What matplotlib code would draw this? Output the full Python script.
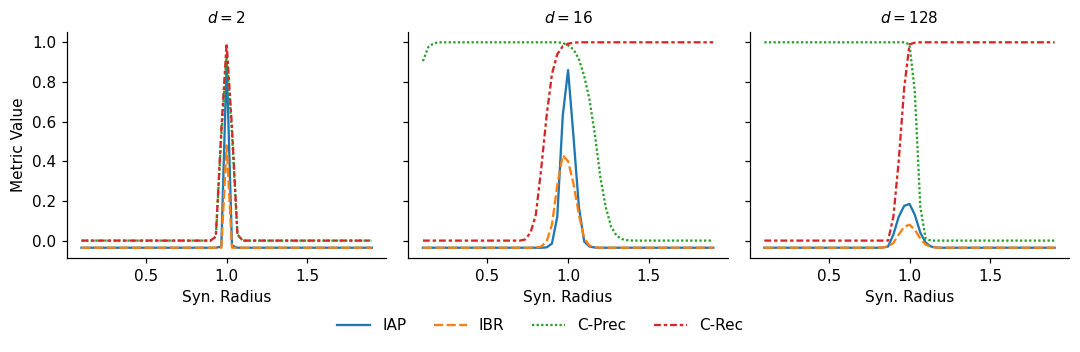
import matplotlib
matplotlib.use("Agg")
import matplotlib.pyplot as plt

# synthetic radius grid (55 points, 0.1 .. 1.9)
radius = [0.1, 0.133, 0.167, 0.2, 0.233, 0.267, 0.3, 0.333, 0.367, 0.4, 0.433,
          0.467, 0.5, 0.533, 0.567, 0.6, 0.633, 0.667, 0.7, 0.733, 0.767, 0.8,
          0.833, 0.867, 0.9, 0.933, 0.967, 1.0, 1.033, 1.067, 1.1, 1.133, 1.167,
          1.2, 1.233, 1.267, 1.3, 1.333, 1.367, 1.4, 1.433, 1.467, 1.5, 1.533,
          1.567, 1.6, 1.633, 1.667, 1.7, 1.733, 1.767, 1.8, 1.833, 1.867, 1.9]

dims = [2, 16, 128]
metrics = ["IAP", "IBR", "C-Prec", "C-Rec"]

# ---- d = 2
iap_d2 = [-0.036, -0.036, -0.036, -0.036, -0.036, -0.036, -0.036, -0.036, -0.036, -0.036, -0.036,
          -0.036, -0.036, -0.036, -0.036, -0.036, -0.036, -0.036, -0.036, -0.036, -0.036, -0.036,
          -0.036, -0.036, -0.036, -0.036, -0.030, 0.900, -0.025, -0.036, -0.036, -0.036, -0.036,
          -0.036, -0.036, -0.036, -0.036, -0.036, -0.036, -0.036, -0.036, -0.036, -0.036, -0.036,
          -0.036, -0.036, -0.036, -0.036, -0.036, -0.036, -0.036, -0.036, -0.036, -0.036, -0.036]
ibr_d2 = [-0.036, -0.036, -0.036, -0.036, -0.036, -0.036, -0.036, -0.036, -0.036, -0.036, -0.036,
          -0.036, -0.036, -0.036, -0.036, -0.036, -0.036, -0.036, -0.036, -0.036, -0.036, -0.036,
          -0.036, -0.036, -0.036, -0.036, -0.036, 0.480, -0.036, -0.036, -0.036, -0.036, -0.036,
          -0.036, -0.036, -0.036, -0.036, -0.036, -0.036, -0.036, -0.036, -0.036, -0.036, -0.036,
          -0.036, -0.036, -0.036, -0.036, -0.036, -0.036, -0.036, -0.036, -0.036, -0.036, -0.036]
cprec_d2 = [0, 0, 0, 0, 0, 0, 0, 0, 0, 0, 0,
            0, 0, 0, 0, 0, 0, 0, 0, 0, 0, 0,
            0, 0, 0, 0.02, 0.53, 0.94, 0.54, 0.03, 0, 0, 0,
            0, 0, 0, 0, 0, 0, 0, 0, 0, 0, 0,
            0, 0, 0, 0, 0, 0, 0, 0, 0, 0, 0]
crec_d2 = [0, 0, 0, 0, 0, 0, 0, 0, 0, 0, 0,
           0, 0, 0, 0, 0, 0, 0, 0, 0, 0, 0,
           0, 0, 0, 0.02, 0.56, 0.995, 0.57, 0.03, 0, 0, 0,
           0, 0, 0, 0, 0, 0, 0, 0, 0, 0, 0,
           0, 0, 0, 0, 0, 0, 0, 0, 0, 0, 0]

# ---- d = 16
iap_d16 = [-0.036, -0.036, -0.036, -0.036, -0.036, -0.036, -0.036, -0.036, -0.036, -0.036, -0.036,
           -0.036, -0.036, -0.036, -0.036, -0.036, -0.036, -0.036, -0.036, -0.036, -0.036, -0.036,
           -0.036, -0.034, -0.015, 0.12, 0.63, 0.86, 0.53, 0.17, -0.005, -0.030, -0.035,
           -0.036, -0.036, -0.036, -0.036, -0.036, -0.036, -0.036, -0.036, -0.036, -0.036, -0.036,
           -0.036, -0.036, -0.036, -0.036, -0.036, -0.036, -0.036, -0.036, -0.036, -0.036, -0.036]
ibr_d16 = [-0.036, -0.036, -0.036, -0.036, -0.036, -0.036, -0.036, -0.036, -0.036, -0.036, -0.036,
           -0.036, -0.036, -0.036, -0.036, -0.036, -0.036, -0.036, -0.036, -0.036, -0.036, -0.035,
           -0.030, -0.005, 0.08, 0.28, 0.43, 0.40, 0.29, 0.13, 0.01, -0.025, -0.034,
           -0.036, -0.036, -0.036, -0.036, -0.036, -0.036, -0.036, -0.036, -0.036, -0.036, -0.036,
           -0.036, -0.036, -0.036, -0.036, -0.036, -0.036, -0.036, -0.036, -0.036, -0.036, -0.036]
cprec_d16 = [0.905, 0.975, 0.995, 1.0, 1.0, 1.0, 1.0, 1.0, 1.0, 1.0, 1.0,
             1.0, 1.0, 1.0, 1.0, 1.0, 1.0, 1.0, 1.0, 1.0, 1.0, 1.0,
             1.0, 1.0, 1.0, 1.0, 0.997, 0.985, 0.965, 0.915, 0.83, 0.71, 0.53,
             0.32, 0.17, 0.07, 0.025, 0.008, 0.002, 0, 0, 0, 0, 0,
             0, 0, 0, 0, 0, 0, 0, 0, 0, 0, 0]
crec_d16 = [0, 0, 0, 0, 0, 0, 0, 0, 0, 0, 0,
            0, 0, 0, 0, 0, 0, 0, 0, 0.005, 0.04, 0.13,
            0.36, 0.63, 0.84, 0.94, 0.98, 0.993, 0.998, 1.0, 1.0, 1.0, 1.0,
            1.0, 1.0, 1.0, 1.0, 1.0, 1.0, 1.0, 1.0, 1.0, 1.0, 1.0,
            1.0, 1.0, 1.0, 1.0, 1.0, 1.0, 1.0, 1.0, 1.0, 1.0, 1.0]

# ---- d = 128
iap_d128 = [-0.036, -0.036, -0.036, -0.036, -0.036, -0.036, -0.036, -0.036, -0.036, -0.036, -0.036,
            -0.036, -0.036, -0.036, -0.036, -0.036, -0.036, -0.036, -0.036, -0.036, -0.036, -0.036,
            -0.035, -0.030, 0.03, 0.12, 0.175, 0.185, 0.13, 0.04, -0.01, -0.030, -0.035,
            -0.036, -0.036, -0.036, -0.036, -0.036, -0.036, -0.036, -0.036, -0.036, -0.036, -0.036,
            -0.036, -0.036, -0.036, -0.036, -0.036, -0.036, -0.036, -0.036, -0.036, -0.036, -0.036]
ibr_d128 = [-0.036, -0.036, -0.036, -0.036, -0.036, -0.036, -0.036, -0.036, -0.036, -0.036, -0.036,
            -0.036, -0.036, -0.036, -0.036, -0.036, -0.036, -0.036, -0.036, -0.036, -0.036, -0.036,
            -0.035, -0.030, -0.012, 0.03, 0.07, 0.08, 0.055, 0.01, -0.02, -0.032, -0.035,
            -0.036, -0.036, -0.036, -0.036, -0.036, -0.036, -0.036, -0.036, -0.036, -0.036, -0.036,
            -0.036, -0.036, -0.036, -0.036, -0.036, -0.036, -0.036, -0.036, -0.036, -0.036, -0.036]
cprec_d128 = [1.0, 1.0, 1.0, 1.0, 1.0, 1.0, 1.0, 1.0, 1.0, 1.0, 1.0,
              1.0, 1.0, 1.0, 1.0, 1.0, 1.0, 1.0, 1.0, 1.0, 1.0, 1.0,
              1.0, 1.0, 1.0, 1.0, 1.0, 0.99, 0.75, 0.17, 0.01, 0, 0,
              0, 0, 0, 0, 0, 0, 0, 0, 0, 0, 0,
              0, 0, 0, 0, 0, 0, 0, 0, 0, 0, 0]
crec_d128 = [0, 0, 0, 0, 0, 0, 0, 0, 0, 0, 0,
             0, 0, 0, 0, 0, 0, 0, 0, 0, 0, 0,
             0, 0, 0.12, 0.40, 0.77, 0.99, 0.998, 1.0, 1.0, 1.0, 1.0,
             1.0, 1.0, 1.0, 1.0, 1.0, 1.0, 1.0, 1.0, 1.0, 1.0, 1.0,
             1.0, 1.0, 1.0, 1.0, 1.0, 1.0, 1.0, 1.0, 1.0, 1.0, 1.0]

panels = {
    2: [iap_d2, ibr_d2, cprec_d2, crec_d2],
    16: [iap_d16, ibr_d16, cprec_d16, crec_d16],
    128: [iap_d128, ibr_d128, cprec_d128, crec_d128],
}

colors = ["#1f77b4", "#ff7f0e", "#2ca02c", "#d62728"]
dashes = [(None, None), (4, 1.5), (1, 1), (3, 1.25, 1.5, 1.25)]

# 1080x352 px, rendered at 110 dpi
fig, axes = plt.subplots(1, 3, figsize=(1080 / 110, 352 / 110), dpi=110, sharey=True)
fig.subplots_adjust(left=0.062, right=0.99, bottom=0.267, top=0.909, wspace=0.069)

for ax, d in zip(axes, dims):
    for vals, name, c, ds in zip(panels[d], metrics, colors, dashes):
        line, = ax.plot(radius, vals, color=c, lw=1.5, label=name)
        if ds[0] is not None:
            line.set_dashes(ds)
    ax.set_title(f"$d = {d}$", fontsize=10)
    ax.set_xlabel("Syn. Radius")
    ax.set_xticks([0.5, 1.0, 1.5])
    ax.spines["top"].set_visible(False)
    ax.spines["right"].set_visible(False)

axes[0].set_ylabel("Metric Value")
axes[0].set_yticks([0.0, 0.2, 0.4, 0.6, 0.8, 1.0])

handles, labels = axes[0].get_legend_handles_labels()
fig.legend(handles, labels, loc="center", ncol=4, frameon=False,
           bbox_to_anchor=(0.5, 1 - 326 / 352), handlelength=2.15, columnspacing=1.8)

fig.savefig("out.png", dpi=110)
